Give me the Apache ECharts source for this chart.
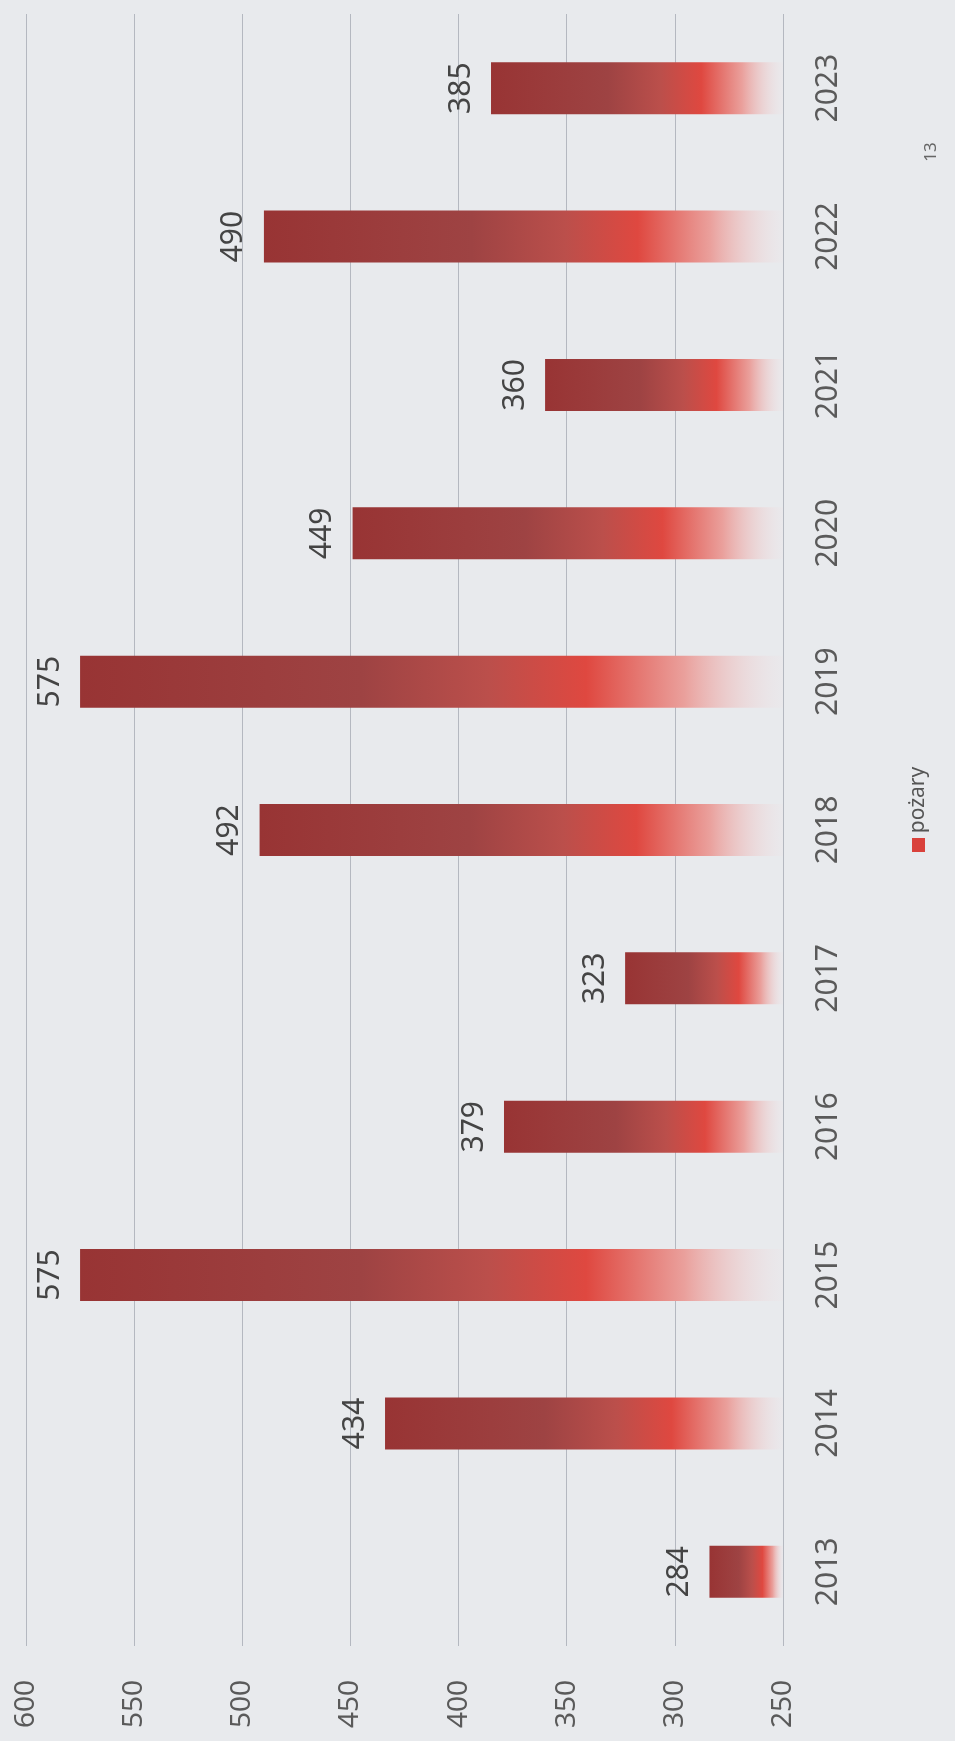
<!DOCTYPE html>
<html>
<head>
<meta charset="utf-8">
<script src="https://cdn.jsdelivr.net/npm/echarts@6/dist/echarts.min.js"></script>
<style>
  html, body { margin: 0; padding: 0; background: #e8eaed; }
  #chart { width: 955px; height: 1741px; }
</style>
</head>
<body>
<div id="chart"></div>
<script>
  // dane: liczba pożarów w latach
  var years = ['2013', '2014', '2015', '2016', '2017', '2018', '2019', '2020', '2021', '2022', '2023'];
  var fires = [284, 434, 575, 379, 323, 492, 575, 449, 360, 490, 385];
  var seriesName = 'pożary';
  var pageNumber = '13';

  var chart = echarts.init(document.getElementById('chart'));

  var barColor = new echarts.graphic.LinearGradient(0, 0, 1, 0, [
    { offset: 0, color: '#983434' },
    { offset: 0.4, color: '#9e4343' },
    { offset: 0.58, color: '#bb4f4b' },
    { offset: 0.72, color: '#df4840' },
    { offset: 0.86, color: '#eaa09c' },
    { offset: 1, color: 'rgba(240,225,228,0.15)' }
  ]);

  var option = {
    backgroundColor: '#e8eaed',
    animation: false,
    grid: {
      left: 26,
      right: 172,
      top: 14,
      bottom: 95
    },
    xAxis: {
      type: 'value',
      inverse: true,
      min: 250,
      max: 600,
      interval: 50,
      axisLine: { show: false },
      axisTick: { show: false },
      splitLine: { show: true, lineStyle: { color: '#b4b8c0', width: 1 } },
      axisLabel: {
        rotate: 90,
        margin: 34,
        fontSize: 28,
        fontFamily: 'Noto Sans',
        color: '#5a5a5a'
      }
    },
    yAxis: {
      type: 'category',
      position: 'right',
      data: years,
      axisLine: { show: false },
      axisTick: { show: false },
      splitLine: { show: false },
      axisLabel: {
        rotate: 90,
        margin: 30,
        fontSize: 30,
        fontFamily: 'Noto Sans',
        color: '#5a5a5a'
      }
    },
    series: [
      {
        name: seriesName,
        type: 'bar',
        data: fires,
        barWidth: 52,
        itemStyle: { color: barColor },
        label: {
          show: true,
          position: 'left',
          distance: 15,
          rotate: 90,
          align: 'center',
          verticalAlign: 'bottom',
          fontSize: 30,
          fontFamily: 'Noto Sans',
          color: '#444'
        }
      }
    ],
    graphic: [
      // legenda (obrócona jak cały wykres)
      {
        type: 'rect',
        shape: { x: 912, y: 838, width: 13, height: 14 },
        style: { fill: '#d9413b' }
      },
      {
        type: 'text',
        x: 918,
        y: 800,
        rotation: Math.PI / 2,
        style: {
          text: seriesName,
          font: '21px "Noto Sans"',
          fill: '#555',
          align: 'center',
          verticalAlign: 'middle'
        }
      },
      {
        type: 'text',
        x: 931,
        y: 152,
        rotation: Math.PI / 2,
        style: {
          text: pageNumber,
          font: '17px "Noto Sans"',
          fill: '#666',
          align: 'center',
          verticalAlign: 'middle'
        }
      }
    ]
  };

  chart.setOption(option);
</script>
</body>
</html>
